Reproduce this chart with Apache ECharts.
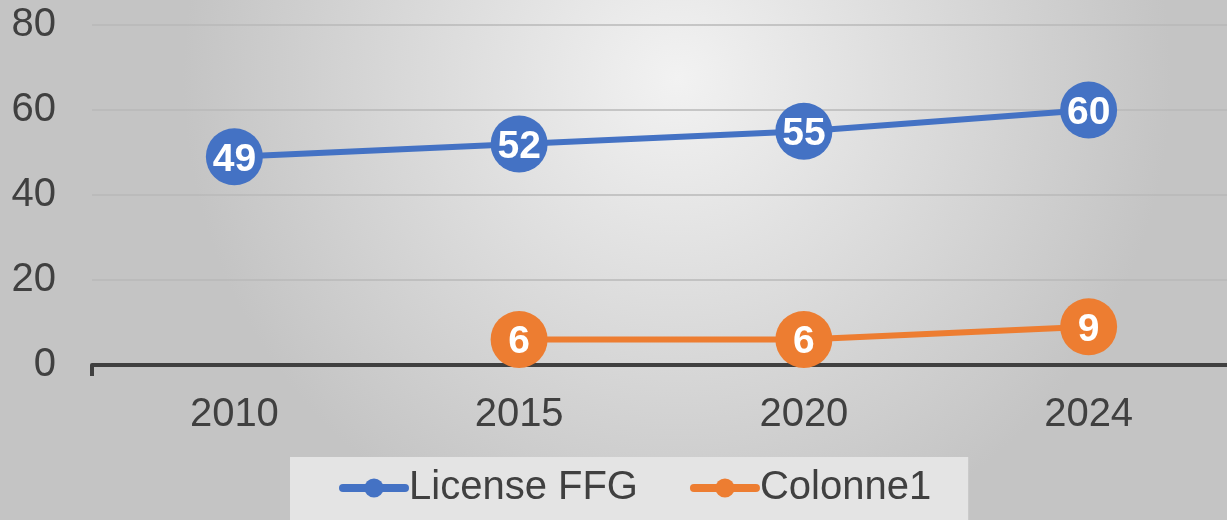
<!DOCTYPE html>
<html>
<head>
<meta charset="utf-8">
<script src="https://cdn.jsdelivr.net/npm/echarts@6/dist/echarts.min.js"></script>
<style>
  html, body { margin: 0; padding: 0; overflow: hidden; }
  #chart { width: 1231px; height: 520px; }
</style>
</head>
<body>
<div id="chart"></div>
<script>
const years = ['2010', '2015', '2020', '2024'];
const licenseFFG = [49, 52, 55, 60];
const colonne1 = [null, 6, 6, 9];
const yTicks = [0, 20, 40, 60, 80];

const myChart = echarts.init(document.getElementById('chart'));

function labelStyle() {
  return {
    show: true,
    position: 'inside',
    offset: [0, 3],
    color: '#fff',
    fontWeight: 'bold',
    fontSize: 39,
    fontFamily: 'Liberation Sans, Arial, sans-serif'
  };
}

const option = {
  backgroundColor: {
    type: 'radial', x: 0.55, y: 0.15, r: 0.95,
    colorStops: [
      { offset: 0, color: '#f2f2f2' },
      { offset: 1, color: '#c4c4c4' }
    ]
  },
  textStyle: { fontFamily: 'Liberation Sans, Arial, sans-serif' },
  grid: { left: 92, right: 0, top: 25, bottom: 155 },
  xAxis: {
    type: 'category',
    data: years,
    axisLine: { lineStyle: { color: '#404040', width: 4 } },
    axisTick: {
      show: true,
      interval: function (i) { return i === 0; },
      length: 11,
      lineStyle: { color: '#404040', width: 4 }
    },
    axisLabel: { color: '#404040', fontSize: 40, margin: 30 }
  },
  yAxis: {
    type: 'value',
    min: yTicks[0],
    max: yTicks[yTicks.length - 1],
    interval: 20,
    axisLine: { show: false },
    axisTick: { show: false },
    axisLabel: { color: '#404040', fontSize: 40, margin: 36 },
    splitLine: { lineStyle: { color: '#b8b8b8', width: 1.5 } }
  },
  legend: {
    left: 290,
    top: 457,
    padding: [11, 37, 30, 49],
    backgroundColor: '#e4e4e4',
    itemWidth: 62,
    itemHeight: 24,
    itemGap: 52,
    lineStyle: { width: 8, cap: 'round' },
    textStyle: { color: '#404040', fontSize: 40, lineHeight: 40, padding: [0, 0, 0, -1] },
    data: ['License FFG', 'Colonne1']
  },
  series: [
    {
      name: 'License FFG',
      type: 'line',
      data: licenseFFG,
      symbol: 'circle',
      symbolSize: 57,
      lineStyle: { color: '#4472C4', width: 6 },
      itemStyle: { color: '#4472C4' },
      label: labelStyle()
    },
    {
      name: 'Colonne1',
      type: 'line',
      data: colonne1,
      symbol: 'circle',
      symbolSize: 57,
      lineStyle: { color: '#ED7D31', width: 6 },
      itemStyle: { color: '#ED7D31' },
      label: labelStyle()
    }
  ]
};
myChart.setOption(option);
</script>
</body>
</html>
